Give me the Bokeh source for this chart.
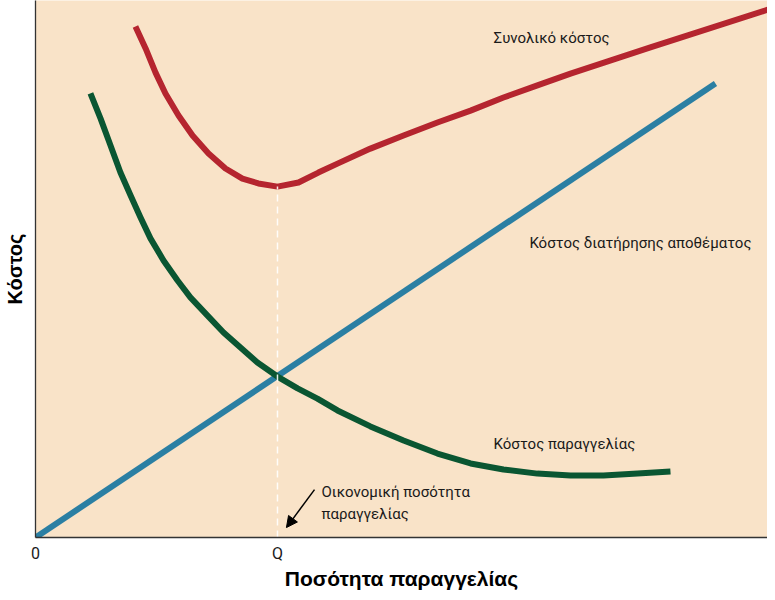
from bokeh.plotting import figure
from bokeh.models import Range1d, Label, Arrow, NormalHead, FixedTicker
from bokeh.embed import file_html
from bokeh.resources import INLINE

# ---- data (abstract units; Q = economic order quantity) ----
Q = 10.0
tick_values = [0.0, Q]
tick_labels = ["0", "Q"]

carry_x = [0.0, 28.10]
carry_y = [0.0, 18.76]

order_x = [2.27, 2.69, 3.10, 3.51, 3.93, 4.34, 4.75, 5.29, 5.87, 6.40, 7.11, 7.77,
           8.47, 9.17, 10.00, 10.83, 11.65, 12.48, 13.84, 15.21, 16.61, 17.98,
           19.34, 20.74, 22.11, 23.47, 24.88, 26.24]
order_y = [18.35, 17.31, 16.20, 15.08, 14.13, 13.22, 12.36, 11.45, 10.62, 9.92, 9.17, 8.47,
           7.85, 7.23, 6.65, 6.16, 5.74, 5.25, 4.59, 4.01, 3.47, 3.06,
           2.81, 2.64, 2.56, 2.56, 2.64, 2.73]

total_x = [4.13, 4.55, 4.96, 5.37, 5.91, 6.49, 7.15, 7.85, 8.55, 9.21, 10.00,
           10.87, 11.69, 12.48, 13.84, 15.21, 16.61, 17.98, 19.34, 20.74, 22.11,
           25.41, 30.29]
total_y = [21.12, 20.21, 19.21, 18.35, 17.44, 16.61, 15.87, 15.25, 14.83, 14.63, 14.50,
           14.67, 15.08, 15.45, 16.07, 16.61, 17.15, 17.64, 18.18, 18.68, 19.17,
           20.25, 21.82]
total_min = 14.50

x_title = "Ποσότητα παραγγελίας"
y_title = "Κόστος"

BG = "#F9E3C8"
RED = "#B5252F"
BLUE = "#2B7FA3"
GREEN = "#0A5632"
FONT = "Roboto"
BOLD_FONT = "Liberation Sans"

p = figure(width=767, height=592, output_backend="svg", toolbar_location=None,
           x_range=Range1d(0, 30.25), y_range=Range1d(0, 22.19),
           min_border_left=35, min_border_right=0, min_border_top=0,
           min_border_bottom=55)
p.background_fill_color = BG
p.border_fill_color = "white"
p.outline_line_color = None
p.grid.visible = False

p.line(carry_x, carry_y, line_color=BLUE, line_width=6)
p.line(order_x, order_y, line_color=GREEN, line_width=6, line_join="round")
p.line(total_x, total_y, line_color=RED, line_width=6, line_join="round")

p.segment(x0=[Q], y0=[0], x1=[Q], y1=[total_min], line_color="white",
          line_width=1.5, line_dash="7 5", line_alpha=0.9)

def lab(x, y, t):
    p.add_layout(Label(x=x, y=y, text=t, text_font=FONT, text_font_size="15px",
                       text_color="#1a1a1a", text_baseline="middle", text_align="left"))

lab(18.93, 20.66, "Συνολικό κόστος")
lab(20.41, 12.15, "Κόστος διατήρησης αποθέματος")
lab(18.93, 3.88, "Κόστος παραγγελίας")
lab(11.82, 1.86, "Οικονομική ποσότητα")
lab(11.82, 0.99, "παραγγελίας")

p.add_layout(Arrow(x_start=11.53, y_start=1.98, x_end=10.37, y_end=0.41,
                   line_width=1.5, line_color="black",
                   end=NormalHead(size=11, fill_color="black", line_color="black")))

xa = p.xaxis[0]
xa.ticker = FixedTicker(ticks=tick_values)
xa.major_label_overrides = {tick_values[i]: tick_labels[i] for i in range(len(tick_values))}
xa.major_tick_out = 0
xa.major_tick_in = 0
xa.minor_tick_out = 0
xa.minor_tick_in = 0
xa.major_label_text_font = FONT
xa.major_label_text_font_size = "16px"
xa.major_label_text_line_height = 1.0
xa.major_label_text_color = "#1a1a1a"
xa.major_label_standoff = 6
xa.axis_label = x_title
xa.axis_label_text_font = BOLD_FONT
xa.axis_label_text_font_style = "bold"
xa.axis_label_text_font_size = "21px"
xa.axis_label_text_line_height = 1.0
xa.axis_label_text_color = "black"
xa.axis_label_standoff = 1
xa.axis_line_color = "#333333"
xa.axis_line_width = 1.3

ya = p.yaxis[0]
ya.ticker = FixedTicker(ticks=[])
ya.major_tick_out = 0
ya.minor_tick_out = 0
ya.major_tick_in = 0
ya.minor_tick_in = 0
ya.major_label_text_font_size = "0px"
ya.axis_label = y_title
ya.axis_label_text_font = BOLD_FONT
ya.axis_label_text_font_style = "bold"
ya.axis_label_text_font_size = "20px"
ya.axis_label_text_line_height = 1.0
ya.axis_label_text_color = "black"
ya.axis_label_standoff = 10
ya.axis_line_color = "#333333"
ya.axis_line_width = 1.3

open("out.html", "w").write(file_html(p, INLINE))
